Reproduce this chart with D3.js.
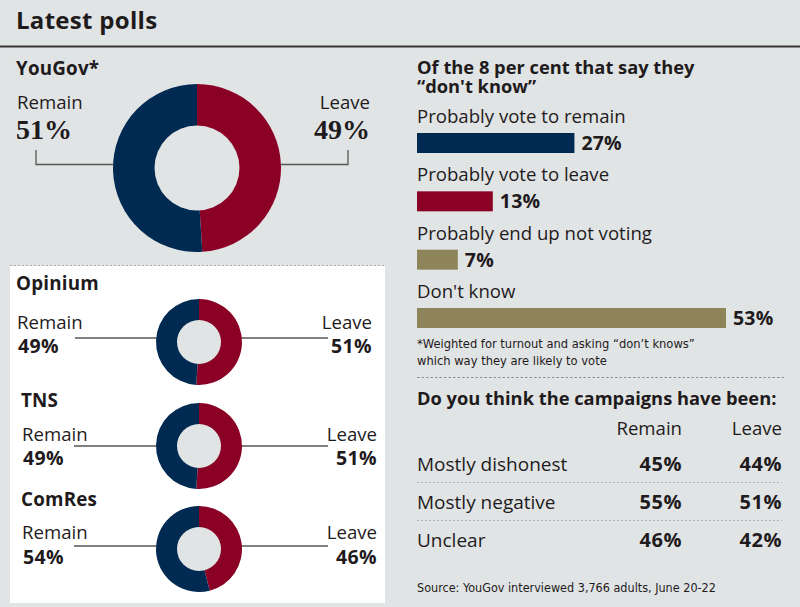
<!DOCTYPE html>
<html><head><meta charset="utf-8">
<script src="https://cdn.jsdelivr.net/npm/d3@7"></script>
<style>
body{margin:0;background:#e1e4e5;}
svg{display:block;}
text{font-family:"Open Sans",Roboto,sans-serif;fill:#1f1b1c;}
.b{font-weight:700;}
.cond{font-family:"Liberation Sans Narrow","DejaVu Sans Condensed",Roboto,sans-serif;}
.serif{font-family:"Liberation Serif","DejaVu Serif",serif;font-weight:700;}
</style></head>
<body>
<script>
// ---- data ----
const pollNames = ["YouGov*", "Opinium", "TNS", "ComRes"];
const remainShare = [51, 49, 49, 54];
const leaveShare = [49, 51, 51, 46];
const dkCategories = ["Probably vote to remain", "Probably vote to leave", "Probably end up not voting", "Don't know"];
const dkValues = [27, 13, 7, 53];
const campaignRows = ["Mostly dishonest", "Mostly negative", "Unclear"];
const campaignRemain = [45, 55, 46];
const campaignLeave = [44, 51, 42];
const sideLabels = ["Remain", "Leave"];
const dkHeading = ["Of the 8 per cent that say they", "\u201cdon't know\u201d"];

// ---- styling ----
const W = 800, H = 607;
const BLUE = "#012a52", RED = "#8b0025", TAN = "#8e8459", BG = "#e1e4e5";
const REG = 18.6, HEAD = 18.3, PCT = 19.5;
const fmt = v => v + "%";

const svg = d3.select("body").append("svg").attr("width", W).attr("height", H);
svg.append("rect").attr("width", W).attr("height", H).attr("fill", BG);

// title
svg.append("text").attr("class", "b").attr("x", 16).attr("y", 29).attr("font-size", 24).attr("letter-spacing", 0.3).text("Latest polls");
svg.append("line").attr("x1", 0).attr("x2", W).attr("y1", 46.5).attr("y2", 46.5).attr("stroke", "#3b3536").attr("stroke-width", 2);

// white panel
svg.append("rect").attr("x", 10).attr("y", 266).attr("width", 375).attr("height", 337).attr("fill", "#fff");
svg.append("line").attr("x1", 10).attr("x2", 385).attr("y1", 265.5).attr("y2", 265.5)
  .attr("stroke", "#a9abac").attr("stroke-dasharray", "2,2");

const pie = d3.pie().sort(null).value(d => d);

// layout for the donuts (positions only)
const donutLayout = [
  {cx: 197, cy: 168, r: 84, ir: 42.5, title: [16, 75], lx: 17, rx: 370, l1: 109, l2: 139, big: true},
  {cx: 199, cy: 342, r: 43, ir: 22, title: [16, 290], lx: 17, rx: 372, l1: 329, l2: 353, lineY: 338, lineL: 75, lineR: 328},
  {cx: 199, cy: 446, r: 43, ir: 22, title: [21, 407], lx: 22, rx: 377, l1: 441, l2: 465, lineY: 446, lineL: 74, lineR: 328},
  {cx: 199, cy: 549, r: 43, ir: 22, title: [21, 506], lx: 22, rx: 377, l1: 539, l2: 564, lineY: 546, lineL: 74, lineR: 328}
];

pollNames.forEach((name, i) => {
  const L = donutLayout[i];
  const g = svg.append("g");
  g.append("text").attr("class", "b").attr("x", L.title[0]).attr("y", L.title[1]).attr("font-size", 18.8).attr("letter-spacing", 0.2).text(name);
  // connector lines
  if (L.big) {
    g.append("path").attr("d", `M36,150V164.5H${L.cx - L.r}`).attr("fill", "none").attr("stroke", "#5a5455").attr("stroke-width", 1.3);
    g.append("path").attr("d", `M${L.cx + L.r},164.5H348V150`).attr("fill", "none").attr("stroke", "#5a5455").attr("stroke-width", 1.3);
  } else {
    g.append("line").attr("x1", L.lineL).attr("x2", L.cx).attr("y1", L.lineY).attr("y2", L.lineY).attr("stroke", "#5a5455").attr("stroke-width", 1.3);
    g.append("line").attr("x1", L.cx).attr("x2", L.lineR).attr("y1", L.lineY).attr("y2", L.lineY).attr("stroke", "#5a5455").attr("stroke-width", 1.3);
  }
  const arcs = pie([leaveShare[i], remainShare[i]]);
  const arc = d3.arc().innerRadius(0).outerRadius(L.r);
  g.selectAll("path.slice").data(arcs).join("path").attr("class", "slice")
    .attr("transform", `translate(${L.cx},${L.cy})`)
    .attr("d", arc).attr("fill", (d, k) => k === 0 ? RED : BLUE);
  g.append("circle").attr("cx", L.cx).attr("cy", L.cy).attr("r", L.ir).attr("fill", BG);
  // labels
  g.append("text").attr("x", L.lx).attr("y", L.l1).attr("font-size", REG).text(sideLabels[0]);
  g.append("text").attr("x", L.rx).attr("y", L.l1).attr("font-size", REG).attr("text-anchor", "end").text(sideLabels[1]);
  if (L.big) {
    g.append("text").attr("class", "serif").attr("x", L.lx - 1).attr("y", L.l2).attr("font-size", 28).text(fmt(remainShare[i]));
    g.append("text").attr("class", "serif").attr("x", L.rx).attr("y", L.l2).attr("font-size", 28).attr("text-anchor", "end").text(fmt(leaveShare[i]));
  } else {
    g.append("text").attr("class", "b").attr("x", L.lx + 1).attr("y", L.l2).attr("font-size", PCT).attr("letter-spacing", 0.4).text(fmt(remainShare[i]));
    g.append("text").attr("class", "b").attr("x", L.rx).attr("y", L.l2).attr("font-size", PCT).attr("letter-spacing", 0.4).attr("text-anchor", "end").text(fmt(leaveShare[i]));
  }
});

// ---- don't know bars ----
const RX = 417;
const head = svg.append("text").attr("class", "b").attr("x", RX).attr("y", 74).attr("font-size", HEAD);
dkHeading.forEach((t, k) => head.append("tspan").attr("x", RX).attr("dy", k === 0 ? 0 : 19).text(t));

const x = d3.scaleLinear().domain([0, d3.max(dkValues)]).range([RX, 726]);
const rowY = d3.scalePoint().domain(dkCategories).range([123, 298]);
const barColors = [BLUE, RED, TAN, TAN];
dkCategories.forEach((c, i) => {
  const y0 = rowY(c);
  svg.append("text").attr("x", RX).attr("y", y0).attr("font-size", REG).text(c);
  svg.append("rect").attr("x", x(0)).attr("y", y0 + 10).attr("width", x(dkValues[i]) - x(0)).attr("height", 20).attr("fill", barColors[i]);
  svg.append("text").attr("class", "b").attr("x", x(dkValues[i]) + 7).attr("y", y0 + 27).attr("font-size", PCT).attr("letter-spacing", 0.2).text(fmt(dkValues[i]));
});

svg.append("text").attr("class", "cond").attr("x", RX).attr("y", 348).attr("font-size", 12.8).text("*Weighted for turnout and asking \u201cdon\u2019t knows\u201d");
svg.append("text").attr("class", "cond").attr("x", RX).attr("y", 365).attr("font-size", 12.8).text("which way they are likely to vote");
svg.append("line").attr("x1", RX).attr("x2", 785).attr("y1", 377.5).attr("y2", 377.5).attr("stroke", "#8f9192").attr("stroke-dasharray", "2.5,2");

// ---- campaigns table ----
svg.append("text").attr("class", "b").attr("x", RX).attr("y", 405).attr("font-size", HEAD).text("Do you think the campaigns have been:");
const colX = [682, 782];
sideLabels.forEach((s, k) => svg.append("text").attr("x", colX[k]).attr("y", 435).attr("font-size", REG).attr("text-anchor", "end").text(s));
const tY = d3.scalePoint().domain(campaignRows).range([471, 547]);
campaignRows.forEach((r, i) => {
  const y0 = tY(r);
  svg.append("text").attr("x", RX).attr("y", y0).attr("font-size", 19).text(r);
  svg.append("text").attr("class", "b").attr("x", colX[0]).attr("y", y0).attr("font-size", 20).attr("letter-spacing", 0.5).attr("text-anchor", "end").text(fmt(campaignRemain[i]));
  svg.append("text").attr("class", "b").attr("x", colX[1]).attr("y", y0).attr("font-size", 20).attr("letter-spacing", 0.5).attr("text-anchor", "end").text(fmt(campaignLeave[i]));
  if (i < campaignRows.length - 1) {
    svg.append("line").attr("x1", RX).attr("x2", 782).attr("y1", y0 + 11.5).attr("y2", y0 + 11.5)
      .attr("stroke", "#b0b2b3").attr("stroke-dasharray", "2,2");
  }
});
svg.append("text").attr("class", "cond").attr("x", RX).attr("y", 592).attr("font-size", 12.5).text("Source: YouGov interviewed 3,766 adults, June 20-22");
</script>
</body></html>
